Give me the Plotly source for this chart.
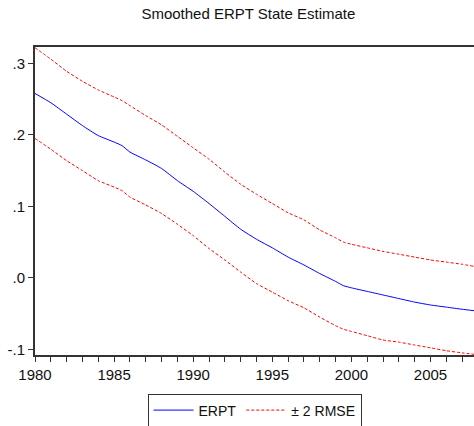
import plotly.graph_objects as go

years = [1980, 1981, 1982, 1983, 1984, 1985, 1985.5, 1986, 1987, 1988, 1989, 1990,
         1991, 1992, 1993, 1994, 1995, 1996, 1997, 1998, 1999, 1999.5, 2000, 2001,
         2002, 2003, 2004, 2005, 2006, 2007, 2007.75]
erpt = [0.258, 0.245, 0.229, 0.213, 0.199, 0.190, 0.185, 0.176, 0.165, 0.153, 0.136, 0.121,
        0.104, 0.086, 0.068, 0.054, 0.042, 0.029, 0.018, 0.006, -0.005, -0.011, -0.014, -0.019,
        -0.024, -0.029, -0.034, -0.038, -0.041, -0.044, -0.046]
upper = [0.322, 0.306, 0.289, 0.275, 0.263, 0.253, 0.248, 0.241, 0.227, 0.214, 0.198, 0.182,
         0.166, 0.148, 0.131, 0.117, 0.104, 0.091, 0.081, 0.067, 0.056, 0.050, 0.047, 0.042,
         0.037, 0.033, 0.029, 0.025, 0.022, 0.019, 0.016]
lower = [0.195, 0.180, 0.164, 0.150, 0.136, 0.127, 0.122, 0.113, 0.102, 0.090, 0.075, 0.059,
         0.041, 0.025, 0.008, -0.008, -0.020, -0.032, -0.042, -0.055, -0.067, -0.072, -0.075, -0.081,
         -0.087, -0.090, -0.094, -0.098, -0.102, -0.105, -0.107]

ytick_vals = [-0.1, 0.0, 0.1, 0.2, 0.3]
ytick_text = ["-.1", ".0", ".1", ".2", ".3"]
xtick_vals = [1980, 1985, 1990, 1995, 2000, 2005]
xtick_text = ["1980", "1985", "1990", "1995", "2000", "2005"]

fig = go.Figure()
fig.add_trace(go.Scatter(x=years, y=erpt, mode="lines", name="ERPT",
                         line=dict(color="#0000ff", width=1, shape="spline", smoothing=0.5)))
fig.add_trace(go.Scatter(x=years, y=upper, mode="lines", name="± 2 RMSE",
                         line=dict(color="#ff0000", width=1, dash="3px,2px", shape="spline", smoothing=0.5)))
fig.add_trace(go.Scatter(x=years, y=lower, mode="lines", name="± 2 RMSE", showlegend=False,
                         line=dict(color="#ff0000", width=1, dash="3px,2px", shape="spline", smoothing=0.5)))

font = "Liberation Sans, Arial, sans-serif"
fig.update_layout(
    width=474, height=426,
    margin=dict(l=35, r=0, t=47, b=71, autoexpand=False),
    paper_bgcolor="white", plot_bgcolor="white",
    font=dict(family=font, size=15, color="#111111"),
    title=dict(text="Smoothed ERPT State Estimate", x=0.524, xanchor="center",
               y=1 - 14 / 426, yanchor="middle", yref="container",
               font=dict(family=font, size=15, color="#111111")),
    showlegend=True,
    legend=dict(orientation="h", x=0.5, xanchor="center", y=-0.125, yanchor="top",
                bordercolor="#333333", borderwidth=1, font=dict(size=14),
                itemwidth=40, tracegroupgap=0),
    xaxis=dict(range=[1980, 2007.75], tickvals=xtick_vals, ticktext=xtick_text, automargin=False,
               showgrid=False, zeroline=False, showline=True, linecolor="#333333", linewidth=2,
               mirror=True, ticks="outside", ticklen=5, tickwidth=1, tickcolor="#333333",
               minor=dict(dtick=1, tick0=1980, ticks="outside", ticklen=5, tickcolor="#333333", showgrid=False)),
    yaxis=dict(range=[-0.108, 0.323], tickvals=ytick_vals, ticktext=ytick_text, automargin=False,
               showgrid=False, zeroline=False, showline=True, linecolor="#333333", linewidth=2,
               ticks="outside", ticklen=5, tickwidth=1, tickcolor="#333333"),
)

fig.write_html("out.html", config={"displayModeBar": False},
               post_script="document.body.style.margin='0';document.body.style.overflow='hidden';")
